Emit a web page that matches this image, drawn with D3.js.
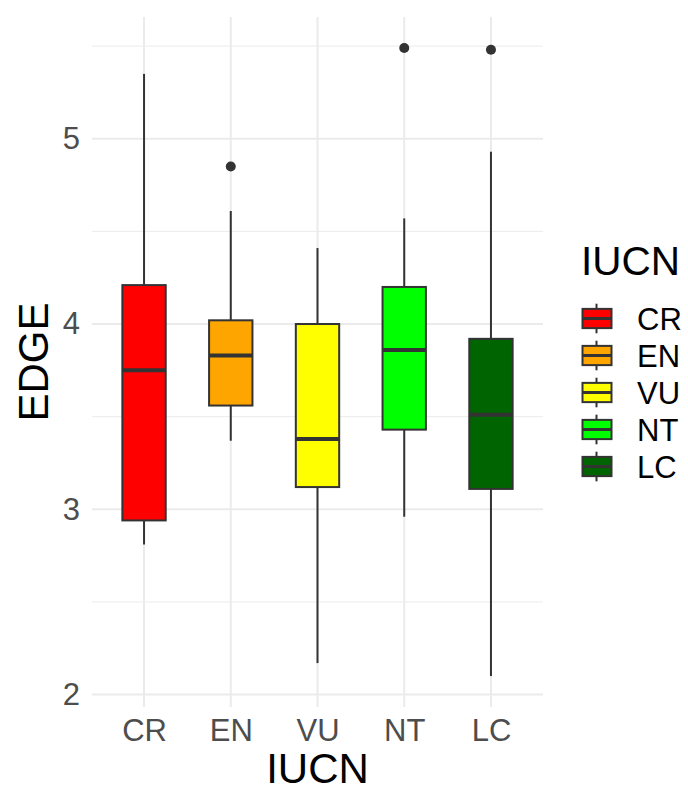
<!DOCTYPE html>
<html>
<head>
<meta charset="utf-8">
<script src="https://cdn.jsdelivr.net/npm/d3@7"></script>
<style>
  body { margin: 0; background: #fff; }
  svg { font-family: "Liberation Sans", Arial, sans-serif; }
</style>
</head>
<body>
<svg width="688" height="785"></svg>
<script>
// Datos
const categories = ["CR", "EN", "VU", "NT", "LC"];
const colors = ["#FF0000", "#FFA500", "#FFFF00", "#00FF00", "#006400"];
const whiskerLow = [2.81, 3.37, 2.17, 2.96, 2.10];
const q1 = [2.94, 3.56, 3.12, 3.43, 3.11];
const median = [3.75, 3.83, 3.38, 3.86, 3.51];
const q3 = [4.21, 4.02, 4.00, 4.20, 3.92];
const whiskerHigh = [5.35, 4.61, 4.41, 4.57, 4.93];
const outliers = [[], [4.85], [], [5.49], [5.48]];
const yTicks = [2, 3, 4, 5];
const yMinor = [2.5, 3.5, 4.5, 5.5];

const boxes = categories.map((c, i) => ({
  cat: c, color: colors[i],
  lo: whiskerLow[i], q1: q1[i], med: median[i], q3: q3[i], hi: whiskerHigh[i],
  out: outliers[i]
}));

const svg = d3.select("svg");
const panel = { left: 92, right: 543, top: 17, bottom: 707 };

// Escalas
const x = d3.scalePoint()
  .domain(categories)
  .range([panel.left, panel.right])
  .padding(0.6);
const step = x.step();
const boxW = step * 0.5;

const y = d3.scaleLinear()
  .domain([1.933, 5.657])
  .range([panel.bottom, panel.top]);

// Rejilla
const grid = svg.append("g");
grid.selectAll("line.minor")
  .data(yMinor)
  .join("line")
  .attr("x1", panel.left).attr("x2", panel.right)
  .attr("y1", d => y(d)).attr("y2", d => y(d))
  .attr("stroke", "#ebebeb").attr("stroke-width", 1);
grid.selectAll("line.major")
  .data(yTicks)
  .join("line")
  .attr("x1", panel.left).attr("x2", panel.right)
  .attr("y1", d => y(d)).attr("y2", d => y(d))
  .attr("stroke", "#ebebeb").attr("stroke-width", 2);
grid.selectAll("line.vert")
  .data(categories)
  .join("line")
  .attr("x1", d => x(d)).attr("x2", d => x(d))
  .attr("y1", panel.top).attr("y2", panel.bottom)
  .attr("stroke", "#ebebeb").attr("stroke-width", 2);

// Cajas
const g = svg.append("g")
  .selectAll("g")
  .data(boxes)
  .join("g");

g.append("line")
  .attr("x1", d => x(d.cat)).attr("x2", d => x(d.cat))
  .attr("y1", d => y(d.hi)).attr("y2", d => y(d.q3))
  .attr("stroke", "#333").attr("stroke-width", 2);
g.append("line")
  .attr("x1", d => x(d.cat)).attr("x2", d => x(d.cat))
  .attr("y1", d => y(d.q1)).attr("y2", d => y(d.lo))
  .attr("stroke", "#333").attr("stroke-width", 2);
g.append("rect")
  .attr("x", d => x(d.cat) - boxW / 2)
  .attr("width", boxW)
  .attr("y", d => y(d.q3))
  .attr("height", d => y(d.q1) - y(d.q3))
  .attr("fill", d => d.color)
  .attr("stroke", "#333").attr("stroke-width", 2);
g.append("line")
  .attr("x1", d => x(d.cat) - boxW / 2).attr("x2", d => x(d.cat) + boxW / 2)
  .attr("y1", d => y(d.med)).attr("y2", d => y(d.med))
  .attr("stroke", "#333").attr("stroke-width", 4);
g.selectAll("circle")
  .data(d => d.out.map(v => ({ cat: d.cat, v })))
  .join("circle")
  .attr("cx", d => x(d.cat))
  .attr("cy", d => y(d.v))
  .attr("r", 5)
  .attr("fill", "#333");

// Ejes
const yAxis = svg.append("g")
  .attr("transform", `translate(${panel.left},0)`)
  .call(d3.axisLeft(y).tickValues(yTicks).tickSize(0).tickPadding(12).tickFormat(d3.format("d")));
yAxis.select(".domain").remove();
yAxis.selectAll("text")
  .attr("font-size", 31).attr("fill", "#4d4d4d")
  .attr("font-family", "Liberation Sans, Arial, sans-serif");

const xAxis = svg.append("g")
  .attr("transform", `translate(0,${panel.bottom})`)
  .call(d3.axisBottom(x).tickSize(0).tickPadding(12));
xAxis.select(".domain").remove();
xAxis.selectAll("text")
  .attr("font-size", 31).attr("fill", "#4d4d4d")
  .attr("font-family", "Liberation Sans, Arial, sans-serif");

// Títulos
svg.append("text")
  .attr("transform", `translate(48,${(panel.top + panel.bottom) / 2}) rotate(-90)`)
  .attr("text-anchor", "middle")
  .attr("font-size", 42)
  .text("EDGE");
svg.append("text")
  .attr("x", (panel.left + panel.right) / 2)
  .attr("y", 783)
  .attr("text-anchor", "middle")
  .attr("font-size", 42)
  .text("IUCN");

// Leyenda
const legend = svg.append("g").attr("transform", "translate(581,0)");
legend.append("text")
  .attr("x", 0).attr("y", 275)
  .attr("font-size", 40.5)
  .text("IUCN");

const keyH = 37, keyTop = 300, keyW = 29;
const item = legend.selectAll("g.item")
  .data(boxes)
  .join("g")
  .attr("transform", (d, i) => `translate(0,${keyTop + i * keyH})`);
item.append("line")
  .attr("x1", keyW / 2 + 1).attr("x2", keyW / 2 + 1)
  .attr("y1", keyH * 0.1).attr("y2", keyH * 0.9)
  .attr("stroke", "#333").attr("stroke-width", 2);
item.append("rect")
  .attr("x", 1.5).attr("width", keyW)
  .attr("y", keyH * 0.24).attr("height", keyH * 0.52)
  .attr("fill", d => d.color)
  .attr("stroke", "#333").attr("stroke-width", 2);
item.append("line")
  .attr("x1", 1.5).attr("x2", keyW + 1.5)
  .attr("y1", keyH / 2).attr("y2", keyH / 2)
  .attr("stroke", "#333").attr("stroke-width", 3);
item.append("text")
  .attr("x", 56).attr("y", keyH / 2 + 11)
  .attr("font-size", 31)
  .text(d => d.cat);
</script>
</body>
</html>
